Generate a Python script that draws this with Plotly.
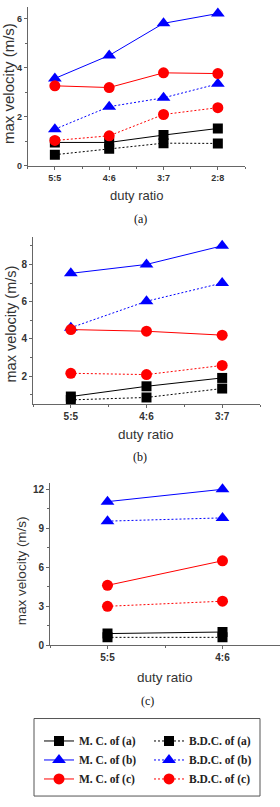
import plotly.graph_objects as go

W, H = 280, 807

# ---------------- data ----------------
cats_a = ["5:5", "4:6", "3:7", "2:8"]
cats_b = ["5:5", "4:6", "3:7"]
cats_c = ["5:5", "4:6"]

# panel (a)
mc_a_a = [0.96, 0.96, 1.26, 1.53]
bdc_a_a = [0.46, 0.70, 0.93, 0.92]
mc_b_a = [3.57, 4.51, 5.82, 6.22]
bdc_b_a = [1.50, 2.42, 2.78, 3.35]
mc_c_a = [3.27, 3.20, 3.80, 3.77]
bdc_c_a = [1.04, 1.23, 2.10, 2.38]

# panel (b)
mc_a_b = [0.90, 1.45, 1.90]
bdc_a_b = [0.72, 0.85, 1.33]
mc_b_b = [7.52, 8.00, 9.00]
bdc_b_b = [4.60, 6.02, 7.00]
mc_c_b = [4.50, 4.41, 4.20]
bdc_c_b = [2.15, 2.08, 2.57]

# panel (c)
mc_a_c = [0.90, 1.02]
bdc_a_c = [0.61, 0.61]
mc_b_c = [11.05, 12.0]
bdc_b_c = [9.55, 9.80]
mc_c_c = [4.61, 6.50]
bdc_c_c = [3.00, 3.39]

legend_names = ["M. C. of (a)", "B.D.C. of (a)", "M. C. of (b)",
                "B.D.C. of (b)", "M. C. of (c)", "B.D.C. of (c)"]

BLACK, BLUE, RED = "#000000", "#0000ff", "#ff0000"
DOT = "2px,2px"
styles = [
    (BLACK, "square", 10, "solid"),
    (BLACK, "square", 10, DOT),
    (BLUE, "triangle-up", 12, "solid"),
    (BLUE, "triangle-up", 12, DOT),
    (RED, "circle", 11, "solid"),
    (RED, "circle", 11, DOT),
]

panels = [
    (cats_a, [mc_a_a, bdc_a_a, mc_b_a, bdc_b_a, mc_c_a, bdc_c_a], "x", "y"),
    (cats_b, [mc_a_b, bdc_a_b, mc_b_b, bdc_b_b, mc_c_b, bdc_c_b], "x2", "y2"),
    (cats_c, [mc_a_c, bdc_a_c, mc_b_c, bdc_b_c, mc_c_c, bdc_c_c], "x3", "y3"),
]

fig = go.Figure()
for pi, (cats, series, xa, ya) in enumerate(panels):
    xs = list(range(len(cats)))
    for si, vals in enumerate(series):
        col, sym, size, dash = styles[si]
        fig.add_trace(go.Scatter(
            x=xs, y=vals, xaxis=xa, yaxis=ya, mode="lines+markers",
            name=legend_names[si], showlegend=(pi == 0),
            line=dict(color=col, width=1, dash=dash),
            marker=dict(color=col, symbol=sym, size=size, line=dict(width=0)),
        ))

def px_x(p):
    return p / W

def px_y(p):
    return 1 - p / H

AX = "#666666"
TXT = "#333333"

def xaxis(dom, cats, tick_size):
    return dict(domain=dom, range=[-0.5, len(cats) - 0.5],
                tickvals=list(range(len(cats))), ticktext=cats,
                showline=True, linecolor=AX, linewidth=1, showgrid=False,
                zeroline=False, ticks="outside", ticklen=3, tickcolor=AX,
                tickfont=dict(family="Liberation Sans", size=tick_size,
                              color=TXT, weight="bold"),
                minor=dict(ticks="outside", ticklen=2, tickcolor=AX,
                           tick0=-0.5, dtick=0.5),
                fixedrange=True)

def yaxis(dom, rng, dtick, mdtick, tick_size, anchor):
    return dict(domain=dom, range=rng, anchor=anchor,
                tick0=0, dtick=dtick,
                showline=True, linecolor=AX, linewidth=1, showgrid=False,
                zeroline=False, ticks="outside", ticklen=3, tickcolor=AX,
                tickfont=dict(family="Liberation Sans", size=tick_size,
                              color=TXT, weight="bold"),
                minor=dict(ticks="outside", ticklen=2, tickcolor=AX,
                           tick0=0, dtick=mdtick),
                fixedrange=True)

layout = dict(
    width=W, height=H, margin=dict(l=0, r=0, t=0, b=0),
    paper_bgcolor="white", plot_bgcolor="white",
    xaxis=xaxis([px_x(27.7), px_x(245)], cats_a, 9) | dict(anchor="y"),
    yaxis=yaxis([px_y(167), px_y(6.7)], [0, 6.5], 2, 1, 9, "x"),
    xaxis2=xaxis([px_x(33), px_x(260)], cats_b, 10) | dict(anchor="y2"),
    yaxis2=yaxis([px_y(406.5), px_y(238)], [0.5, 9.5], 2, 1, 10, "x2"),
    xaxis3=xaxis([px_x(50), 1.0], cats_c, 10) | dict(anchor="y3"),
    yaxis3=yaxis([px_y(649.3), px_y(485.8)], [0, 12.5], 3, 1.5, 10, "x3"),
    showlegend=True,
    legend=dict(orientation="h", x=px_x(39), y=px_y(731), xanchor="left",
                yanchor="top", entrywidth=65, entrywidthmode="pixels",
                bgcolor="rgba(0,0,0,0)", borderwidth=0, itemsizing="trace",
                font=dict(family="Liberation Serif", size=11.5, color="#222222",
                          weight="bold"),
                itemclick=False, itemdoubleclick=False),
    shapes=[dict(type="rect", xref="paper", yref="paper",
                 x0=px_x(34), x1=px_x(260), y0=px_y(801), y1=px_y(723),
                 line=dict(color="#555555", width=1))],
)

annots = []
ytitles = [(8.5, 84, 15), (10.5, 326, 14.5), (21.7, 574, 13.5)]
for x, y, s in ytitles:
    annots.append(dict(text="max velocity (m/s)", x=px_x(x), y=px_y(y),
                       xref="paper", yref="paper", showarrow=False,
                       textangle=-90, xanchor="center", yanchor="middle",
                       font=dict(family="Liberation Sans", size=s, color=TXT)))
xtitles = [(136, 197, 13), (146, 437, 13.5), (165, 682, 13.5)]
for x, y, s in xtitles:
    annots.append(dict(text="duty ratio", x=px_x(x), y=px_y(y),
                       xref="paper", yref="paper", showarrow=False,
                       xanchor="center", yanchor="middle",
                       font=dict(family="Liberation Sans", size=s, color=TXT)))
caps = [("(a)", 140, 220), ("(b)", 140, 460), ("(c)", 147, 705)]
for t, x, y in caps:
    annots.append(dict(text=t, x=px_x(x), y=px_y(y), xref="paper",
                       yref="paper", showarrow=False, xanchor="center",
                       yanchor="middle",
                       font=dict(family="Liberation Serif", size=12,
                                 color="#111111")))
layout["annotations"] = annots

fig.update_layout(**layout)
fig.write_html("out.html")
